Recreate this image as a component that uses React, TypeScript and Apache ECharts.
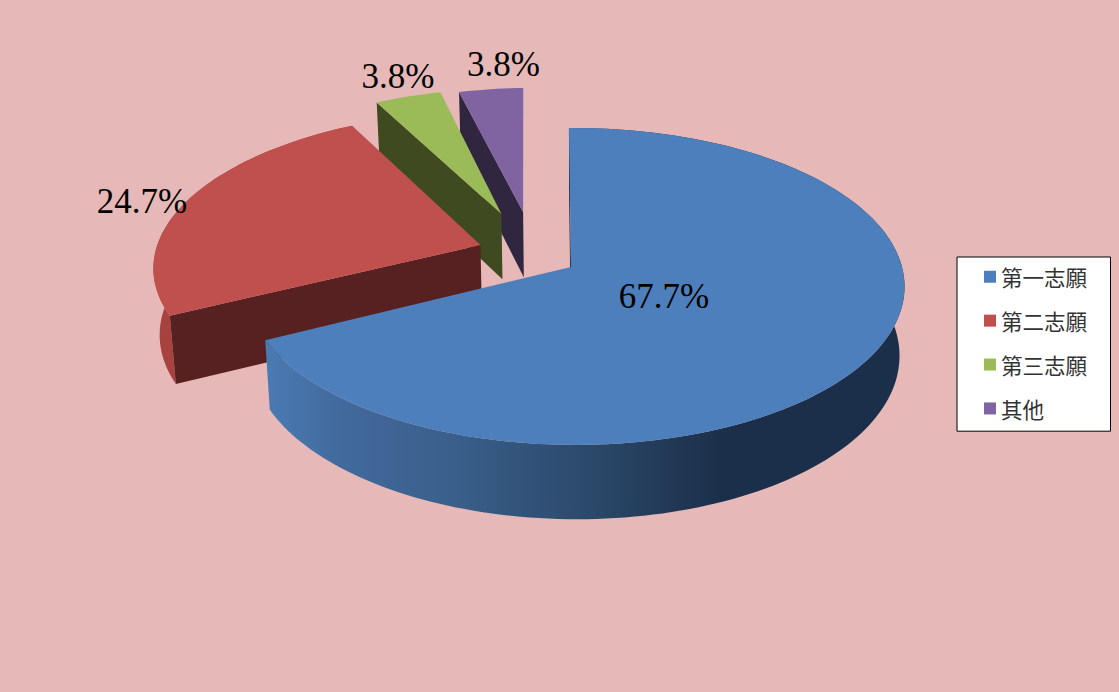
import React, { useEffect, useRef } from "react";
import * as echarts from "echarts";

const CATEGORIES = ["第一志願", "第二志願", "第三志願", "其他"];
const VALUES = [67.7, 24.7, 3.8, 3.8];
const TOP_COLORS = ["#4c7fbc", "#c0504d", "#9bbb59", "#8064a2"];
const WALL_COLORS = ["#1b2f4a", "#a8423f", "#3f4a20", "#312640"];
const FACE_COLORS = ["#1b2f4a", "#562120", "#3f4a20", "#312640"];
// explosion of each slice on the pie's plane, in radii
const OFFSET_U = [0, -0.2826, -0.2227, -0.1534];
const OFFSET_V = [0, -0.144, -0.3554, -0.369];
const RADIUS_U = [1, 1.025, 1.0, 0.97];
const RADIUS_V = [1, 1, 0.98, 0.97];
const TWIST = [0, 0, 0, -0.6];
const HAS_WALL = [true, true, false, false];
const LABEL_X = [664, 142, 398, 503.5];
const LABEL_Y = [296, 201, 76, 64];
const DRAW_ORDER = [4, 3, 2, 1];

const CX = 571, CY = 267, A = 327, B = 156, KV = 0.123, KU = 0.012;
const SHRINK = 0.985, DEPTH = 67.5, ROT = -0.4;

function project(u: number, v: number, bottom: boolean): number[] {
  const w = 1 - KV * v - KU * u;
  const x = (A * u) / w;
  const y = (B * v) / w;
  if (!bottom) return [CX + x, CY + y];
  return [CX + x * SHRINK, CY + y * SHRINK + DEPTH / w];
}

function rim(idx: number, deg: number, bottom: boolean): number[] {
  const t = ((deg + ROT + TWIST[idx]) * Math.PI) / 180;
  return project(
    OFFSET_U[idx] + RADIUS_U[idx] * Math.sin(t),
    OFFSET_V[idx] - RADIUS_V[idx] * Math.cos(t),
    bottom
  );
}

function arc(idx: number, from: number, to: number, bottom: boolean): number[][] {
  const out: number[][] = [];
  const steps = Math.max(8, Math.ceil(Math.abs(to - from) / 1.5));
  for (let i = 0; i <= steps; i++) out.push(rim(idx, from + ((to - from) * i) / steps, bottom));
  return out;
}

function makeRenderItem(idx: number) {
  return (_params: any, api: any) => {
    const total = VALUES.reduce((a, b) => a + b, 0);
    const before = VALUES.slice(0, idx).reduce((a, b) => a + b, 0);
    const from = (before / total) * 360;
    const to = from + (api.value(0) / total) * 360;
    const apexTop = project(OFFSET_U[idx], OFFSET_V[idx], false);
    const apexBottom = project(OFFSET_U[idx], OFFSET_V[idx], true);
    const wallFill =
      idx === 0
        ? new echarts.graphic.LinearGradient(
            264, 0, 900, 0,
            [
              { offset: 0, color: "#4a7bb4" },
              { offset: 0.13, color: "#41699b" },
              { offset: 0.3, color: "#395f8b" },
              { offset: 0.53, color: "#2a4767" },
              { offset: 0.72, color: "#1b2f4a" },
              { offset: 1, color: "#1b2f4a" },
            ],
            true
          )
        : WALL_COLORS[idx];
    const children: any[] = [];
    if (HAS_WALL[idx]) {
      children.push({
        type: "polygon",
        shape: { points: [...arc(idx, from, to, false), ...arc(idx, to, from, true)] },
        style: { fill: wallFill },
      });
    }
    children.push(
      {
        type: "polygon",
        shape: { points: [apexTop, rim(idx, from, false), rim(idx, from, true), apexBottom] },
        style: { fill: FACE_COLORS[idx] },
      },
      {
        type: "polygon",
        shape: { points: [apexTop, ...arc(idx, from, to, false)] },
        style: { fill: TOP_COLORS[idx] },
      },
      {
        type: "text",
        style: {
          text: `${api.value(0).toFixed(1)}%`,
          x: LABEL_X[idx],
          y: LABEL_Y[idx],
          fontSize: 35,
          fontFamily: '"Liberation Serif"',
          fill: "#000",
          align: "center",
          verticalAlign: "middle",
        },
      }
    );
    return { type: "group", children };
  };
}

export default function App() {
  const ref = useRef<HTMLDivElement>(null);
  useEffect(() => {
    const chart = echarts.init(ref.current!, undefined, { renderer: "svg" });
    chart.setOption({
      animation: false,
      backgroundColor: "#e6b8b7",
      legend: {
        data: CATEGORIES,
        orient: "vertical",
        left: 957,
        top: 257,
        icon: "rect",
        itemWidth: 12,
        itemHeight: 12,
        itemGap: 22.4,
        padding: [9, 23.5, 12, 27],
        backgroundColor: "#fff",
        borderColor: "#000",
        borderWidth: 1,
        selectedMode: false,
        textStyle: { fontSize: 21.5, color: "#333", fontFamily: '"Noto Sans CJK TC"', lineHeight: 21 },
      },
      series: CATEGORIES.map((name, idx) => ({
        type: "custom",
        name,
        coordinateSystem: "none",
        z: DRAW_ORDER[idx],
        itemStyle: { color: TOP_COLORS[idx] },
        data: [[VALUES[idx]]],
        renderItem: makeRenderItem(idx),
      })),
    });
    return () => chart.dispose();
  }, []);
  return <div ref={ref} style={{ position: "absolute", left: 0, top: 0, width: 1119, height: 692 }} />;
}
